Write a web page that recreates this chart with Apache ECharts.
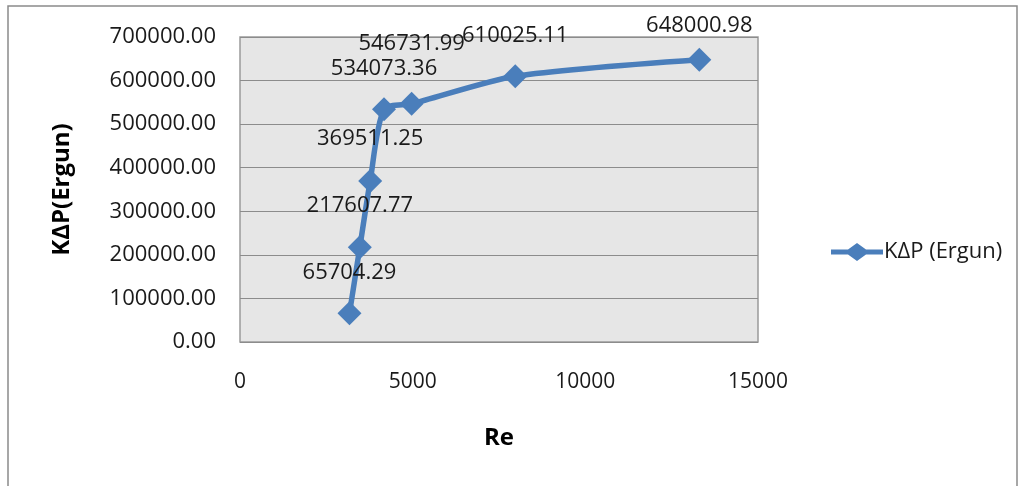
<!DOCTYPE html>
<html><head><meta charset="utf-8">
<script src="https://cdn.jsdelivr.net/npm/echarts@6/dist/echarts.min.js"></script>
<style>html,body{margin:0;padding:0;background:#fff}#c{width:1024px;height:486px}</style>
</head><body><div id="c"></div>
<script>
const reValues = [3170, 3470, 3770, 4170, 4970, 7970, 13300];
const kdpValues = [65704.29, 217607.77, 369511.25, 534073.36, 546731.99, 610025.11, 648000.98];
const labelOffsets = [-41, -41, -42, -41, -60, -40, -34];
const seriesName = 'KΔP (Ergun)';
const xName = 'Re';
const yName = 'KΔP(Ergun)';
const FONT = 'Open Sans';

const chart = echarts.init(document.getElementById('c'));
const data = reValues.map((x, i) => ({
  value: [x, kdpValues[i]],
  label: { offset: [0, labelOffsets[i]] }
}));
chart.setOption({
  animation: false,
  textStyle: { fontFamily: FONT },
  graphic: [{
    type: 'rect', shape: { x: 8, y: 6, width: 1009, height: 490 },
    style: { fill: 'none', stroke: '#8a8a8a', lineWidth: 1.5 }, silent: true
  }],
  grid: {
    left: 240, right: 266, top: 37, bottom: 144,
    show: true, backgroundColor: '#e6e6e6', borderColor: '#9a9a9a', borderWidth: 1.5
  },
  legend: {
    orient: 'vertical', left: 826, top: 236,
    itemWidth: 52, itemHeight: 18, itemGap: 10,
    textStyle: { fontSize: 22, color: '#1a1a1a', fontFamily: FONT, padding: [0, 0, 0, -4] },
    data: [{ name: seriesName, icon: 'path://M0,6.5 L17,6.5 L26,0 L35,6.5 L52,6.5 L52,11.5 L35,11.5 L26,18 L17,11.5 L0,11.5 Z' }]
  },
  xAxis: {
    type: 'value', min: 0, max: 15000, interval: 5000,
    name: xName, nameLocation: 'middle', nameGap: 84,
    nameTextStyle: { fontSize: 24, fontWeight: 'bold', color: '#000', fontFamily: FONT },
    axisLine: { show: false }, axisTick: { show: false }, splitLine: { show: false },
    axisLabel: { fontSize: 21, color: '#1a1a1a', margin: 30, formatter: v => String(v) }
  },
  yAxis: {
    type: 'value', min: 0, max: 700000, interval: 100000,
    name: yName, nameLocation: 'middle', nameGap: 166, nameRotate: 90,
    nameTextStyle: { fontSize: 24, fontWeight: 'bold', color: '#000', fontFamily: FONT },
    axisLine: { show: false }, axisTick: { show: false },
    splitLine: { lineStyle: { color: '#8c8c8c', width: 1 } },
    axisLabel: { fontSize: 22, color: '#1a1a1a', margin: 24, formatter: v => v.toFixed(2) }
  },
  series: [{
    name: seriesName, type: 'line', data: data,
    smooth: 0.25,
    symbol: 'diamond', symbolSize: 24,
    lineStyle: { color: '#4a7ebb', width: 5.5 },
    itemStyle: { color: '#4a7ebb' },
    label: {
      show: true, position: 'inside', fontSize: 22, color: '#1a1a1a',
      formatter: p => kdpValues[p.dataIndex].toFixed(2)
    }
  }]
});
</script></body></html>
